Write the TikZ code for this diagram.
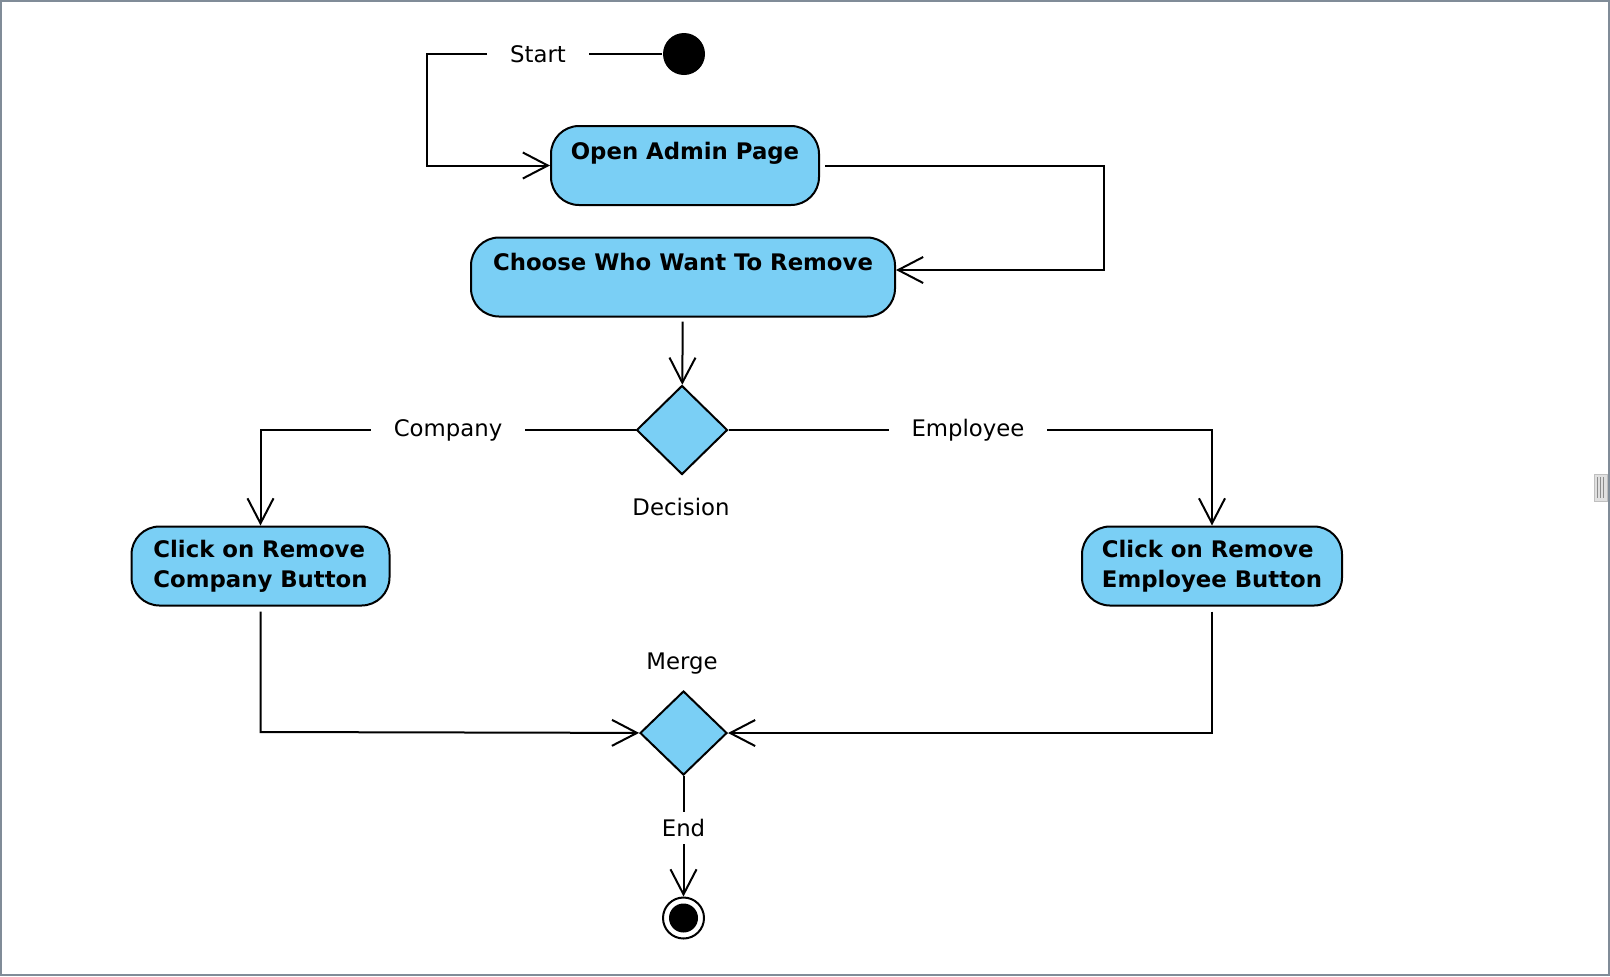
\documentclass[tikz,border=0pt]{standalone}
\usepackage{fontspec}
\setmainfont{DejaVu Sans}
\usepackage{tikz}
\usetikzlibrary{shapes.geometric}
\usetikzlibrary{arrows.meta}

\definecolor{actblue}{RGB}{122,207,245}
\definecolor{framegray}{RGB}{128,140,152}

\begin{document}
\begin{tikzpicture}[x=0.5pt, y=-0.5pt, line width=1pt,
        every node/.style={font=\fontsize{11.4}{15}\selectfont},
        activity/.style={draw, fill=actblue, rounded corners=14pt, align=center,
            font=\fontsize{11.4}{15}\selectfont\bfseries, minimum height=39.5pt, inner sep=0pt},
        branch/.style={draw, diamond, fill=actblue, inner sep=0pt},
        guard/.style={inner xsep=11pt, inner ysep=3.3pt},
        initnode/.style={circle, fill=black, minimum size=21pt, inner sep=0pt},
        finalnode/.style={circle, draw, minimum size=20.5pt, inner sep=0pt,
            path picture={\fill (path picture bounding box.center) circle (7.25pt);}},
        flow/.style={-{Straight Barb[length=12.5pt, width=13pt]}}]
            \useasboundingbox (0,0) rectangle (1610,976);

            \node[initnode] (init) at (684,54) {};
            \node[guard] (gs) at (538,54) {Start};
            \node[activity, minimum width=134pt] (open) at (685,165.5) {Open Admin Page\\ \mbox{}};
            \node[activity, minimum width=212pt] (choose) at (683,277) {Choose Who Want To Remove\\ \mbox{}};

            \node[branch, minimum width=45.5pt, minimum height=44.5pt] (dec) at (682,430) {};
            \node (declbl) at (681,507) {Decision};
            \node[guard] (gc) at (448,430) {Company};
            \node[guard] (ge) at (968,430) {Employee};

            \node[activity, align=left, minimum width=129pt] (comp) at (260.5,566) {Click on Remove\\Company Button};
            \node[activity, align=left, minimum width=130pt] (empl) at (1212,566) {Click on Remove\\Employee Button};

            \node (mergelbl) at (682,664) {Merge};
            \node[branch, minimum width=43.5pt, minimum height=42pt] (merge) at (683.5,733) {};
            \node[guard] (gend) at (683.5,828) {End};
            \node[finalnode] (fin) at (683.5,918) {};

            \coordinate (k1) at (427,165.5);
            \coordinate (k2) at (1104,270);
            \coordinate (k3) at (260.5,732);
            \coordinate (k4) at (1212,733);

            \draw (init) -- (gs);
            \draw[flow] (gs) -| (k1) -- (open);
            \draw[flow, shorten <=2.5pt] (open) -| (k2) -- (k2 -| choose.east);
            \draw[flow, shorten <=2pt] (choose) -- (dec);

            \draw (dec) -- (gc);
            \draw[flow] (gc) -| (comp);
            \draw (dec) -- (ge);
            \draw[flow] (ge) -| (empl);

            \draw[flow, shorten <=2.5pt] (comp) -- (k3) -- (merge);
            \draw[flow, shorten <=2.5pt] (empl) -- (k4) -- (merge);
            \draw (merge) -- (gend);
            \draw[flow] (gend) -- (fin);

            \draw[fill=black!12, draw=black!25, line width=0.5pt] (1594,474) rectangle (1607,501);
            \foreach \x in {1597.5, 1600.5, 1603.5} {
                \draw[black!45, line width=0.6pt] (\x,477) -- (\x,498);
            }
            \draw[framegray] (1,1) rectangle (1609,975);
        \end{tikzpicture}
\end{document}
